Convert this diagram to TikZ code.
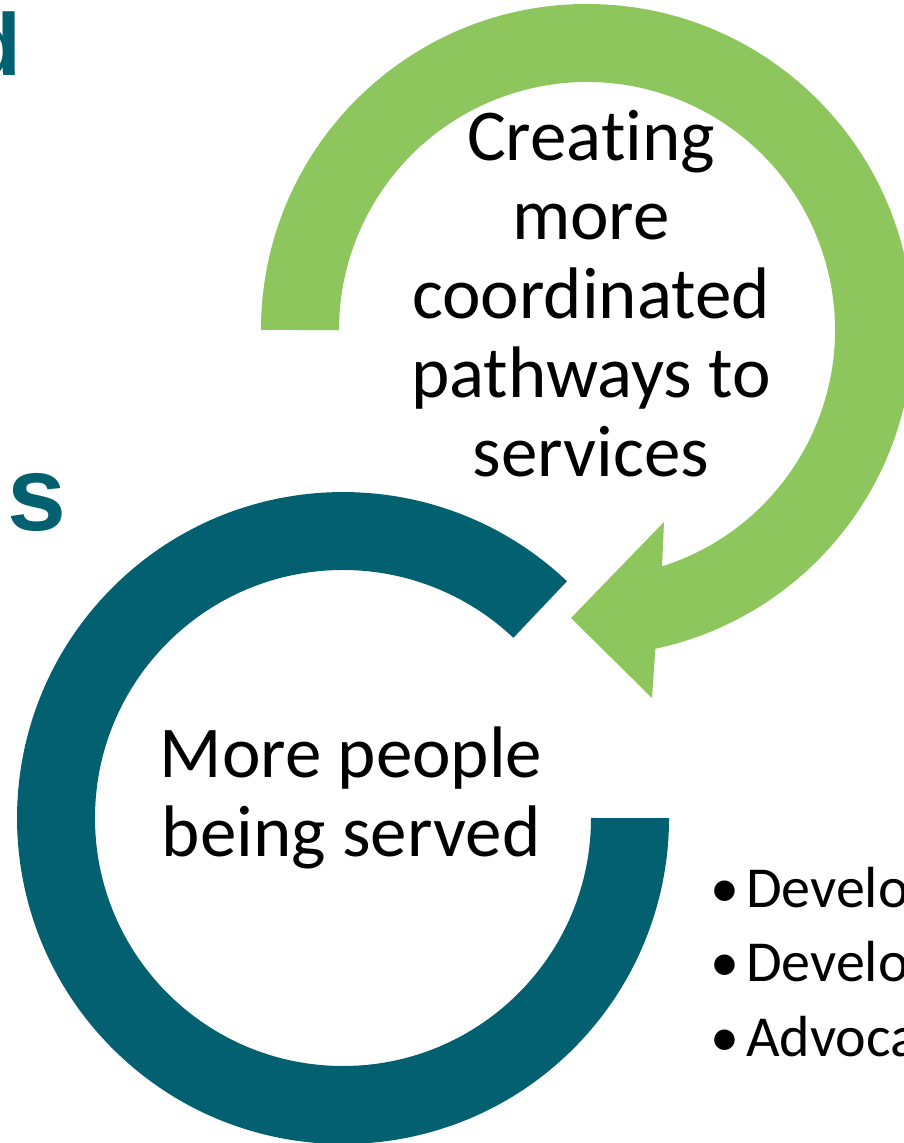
\documentclass[tikz,border=0pt]{standalone}
\usepackage{fontspec}
\setmainfont{Carlito}[Ligatures=NoCommon]
\newfontfamily\headfont{Liberation Sans}
\definecolor{ringgreen}{RGB}{140,198,92}
\definecolor{ringteal}{RGB}{2,96,112}
\begin{document}
\begin{tikzpicture}[x=1bp,y=1bp,
  bigtext/.style={inner sep=0pt,anchor=base,font=\fontsize{73bp}{79bp}\selectfont},
  bullettext/.style={inner sep=0pt,anchor=base west,font=\fontsize{58bp}{74bp}\selectfont},
  headtext/.style={inner sep=0pt,anchor=base west,text=ringteal}]
\useasboundingbox (0,0) rectangle (904,1143);
\clip (0,0) rectangle (904,1143);
% green curved arrow
\fill[ringgreen] (261,813) arc[start angle=180,end angle=-77.9,radius=326bp]
  -- (652,445) -- (571,525) -- (664,621) -- (662,576.6)
  arc[start angle=-72.4,end angle=180,radius=248bp] -- cycle;
% teal ring
\fill[ringteal] (567,561.8) arc[start angle=46.6,end angle=360,radius=326bp]
  -- (591,325) arc[start angle=360,end angle=46.6,radius=248bp] -- cycle;
% partial headings at left edge
\node[headtext,font=\headfont\bfseries\fontsize{88bp}{90bp}\selectfont] (hd) at (-33,1067) {d};
\node[headtext,font=\headfont\bfseries\fontsize{106bp}{110bp}\selectfont] (hs) at (7,612) {s};
% top text
\node[bigtext] (c1) at (591,982) {Creating};
\node[bigtext] (c2) at (591,903) {more};
\node[bigtext] (c3) at (591,824) {coordinated};
\node[bigtext] (c4) at (591,745) {pathways to};
\node[bigtext] (c5) at (591,666) {services};
% bottom text
\node[bigtext] (m1) at (351,365) {More people};
\node[bigtext] (m2) at (351,286) {being served};
% bullets
\node[bullettext] (b1) at (710,235) {•\hspace{7bp}Develo};
\node[bullettext] (b2) at (710,161) {•\hspace{7bp}Develo};
\node[bullettext] (b3) at (710,86) {•\hspace{7bp}Advoca};
\end{tikzpicture}
\end{document}
